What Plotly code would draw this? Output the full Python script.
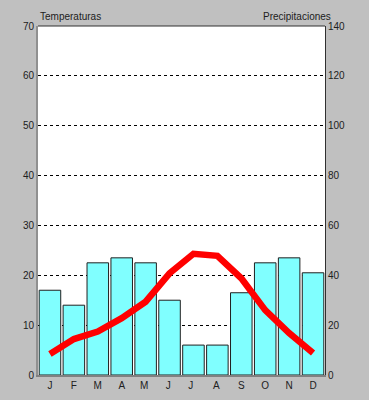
import plotly.graph_objects as go

months = ["J", "F", "M", "A", "M ", "J ", "J  ", "A ", "S", "O", "N", "D"]
precip = [34, 28, 45, 47, 45, 30, 12, 12, 33, 45, 47, 41]
temp = [4.2, 7.2, 8.7, 11.4, 14.7, 20.4, 24.3, 23.9, 19.4, 13.0, 8.4, 4.4]
temp_ticks = [0, 10, 20, 30, 40, 50, 60, 70]
precip_ticks = [0, 20, 40, 60, 80, 100, 120, 140]

fig = go.Figure()
fig.add_trace(go.Bar(
    x=months, y=precip, yaxis="y",
    marker=dict(color="#80ffff", line=dict(color="#202020", width=1)),
    width=0.9,
))
fig.add_trace(go.Scatter(
    x=months, y=temp, yaxis="y2", mode="lines",
    line=dict(color="#ff0000", width=6.5),
))

font = dict(family="Liberation Sans, Arial, sans-serif", size=10, color="#202020")
fig.update_layout(
    width=369, height=400,
    margin=dict(l=38, r=44, t=26, b=25),
    paper_bgcolor="#c0c0c0", plot_bgcolor="#ffffff",
    showlegend=False, font=font,
    xaxis=dict(type="category", showgrid=False, showline=True, linecolor="#808080",
               linewidth=2, mirror=False, ticks="", tickfont=font, automargin=False,
               range=[-0.5, 11.5]),
    yaxis=dict(side="right", range=[0, 140], tickvals=precip_ticks, automargin=False,
               showgrid=True, gridcolor="#000000", griddash="3px,3px", gridwidth=1,
               zeroline=False, showline=True, linecolor="#303030", linewidth=1,
               ticks="", tickfont=font),
    yaxis2=dict(side="left", overlaying="y", range=[0, 70], tickvals=temp_ticks,
                showgrid=False, zeroline=False, showline=True, linecolor="#909090",
                linewidth=2, ticks="", tickfont=font, automargin=False),
    annotations=[
        dict(text="Temperaturas", xref="paper", yref="paper", x=0, y=1,
             xanchor="left", yanchor="bottom", showarrow=False, yshift=2, font=font),
        dict(text="Precipitaciones", xref="paper", yref="paper", x=1, y=1,
             xanchor="right", yanchor="bottom", showarrow=False, yshift=2, xshift=8, font=font),
    ],
)
fig.add_shape(type="line", xref="paper", yref="paper", x0=0, x1=1, y0=1, y1=1,
              line=dict(color="#303030", width=1))
fig.write_html("out.html", config={"displayModeBar": False},
               post_script="document.body.style.margin='0';document.body.style.background='#c0c0c0';")
